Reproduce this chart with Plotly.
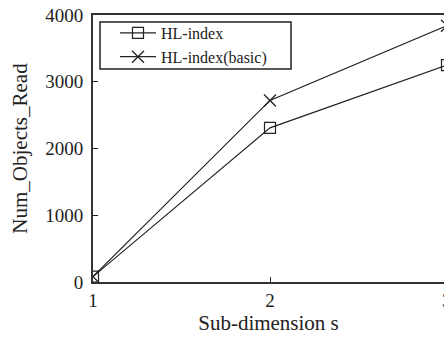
import plotly.graph_objects as go

# Sub-dimension values and the number of objects read by each index
sub_dimension = [1, 2, 3]
hl_index = [80, 2310, 3250]
hl_index_basic = [80, 2720, 3840]
y_ticks = [0, 1000, 2000, 3000, 4000]
x_ticks = [1, 2]

SERIF = "Liberation Serif, Times New Roman, serif"
INK = "#222222"

fig = go.Figure()
fig.add_trace(go.Scatter(
    x=sub_dimension, y=hl_index, name="HL-index", mode="lines+markers",
    line=dict(color=INK, width=1.2),
    marker=dict(symbol="square-open", size=11, color=INK, line=dict(width=1.2)),
))
fig.add_trace(go.Scatter(
    x=sub_dimension, y=hl_index_basic, name="HL-index(basic)", mode="lines+markers",
    line=dict(color=INK, width=1.2),
    marker=dict(symbol="x-thin-open", size=12, color=INK, line=dict(width=1.3, color=INK)),
))

left, bottom, top = 93, 58, 15
plot_w = 444 - left
plot_h = 340 - top - bottom


def px_x(px):
    return (px - left) / plot_w


def px_y(px):
    return (340 - bottom - px) / plot_h


fig.update_layout(
    width=444, height=340,
    margin=dict(l=left, r=0, t=top, b=bottom),
    paper_bgcolor="white", plot_bgcolor="white",
    font=dict(family=SERIF, color=INK, size=16),
    showlegend=True,
    legend=dict(
        x=px_x(115), y=px_y(16), xanchor="left", yanchor="top",
        borderwidth=0, bgcolor="rgba(0,0,0,0)",
        font=dict(family=SERIF, size=16, color=INK),
        itemwidth=36, tracegroupgap=0,
    ),
)
# Frame around the legend
fig.add_shape(
    type="rect", xref="paper", yref="paper",
    x0=px_x(100), x1=px_x(291), y0=px_y(69), y1=px_y(22),
    line=dict(color=INK, width=1.5), fillcolor="white", layer="below",
)
fig.update_xaxes(
    range=[1, 1 + plot_w / 177.0], tickvals=x_ticks, ticktext=[str(v) for v in x_ticks],
    ticks="inside", ticklen=5, tickwidth=1, tickcolor=INK,
    showline=True, linecolor="#333333", linewidth=2, mirror=True, showgrid=False, zeroline=False,
    tickfont=dict(family=SERIF, size=19, color=INK),
    title=dict(text="Sub-dimension s", font=dict(family=SERIF, size=21, color=INK), standoff=6),
)
fig.update_yaxes(
    range=[0, 4000], tickvals=y_ticks,
    ticks="inside", ticklen=5, tickwidth=1, tickcolor=INK, ticklabelstandoff=4,
    showline=True, linecolor="#333333", linewidth=2, mirror=False, showgrid=False, zeroline=False,
    tickfont=dict(family=SERIF, size=19, color=INK),
    title=dict(text="Num_Objects_Read", font=dict(family=SERIF, size=21, color=INK), standoff=12),
)
# Tick label for s = 3 sits at the right edge of the figure
fig.add_annotation(
    x=px_x(447), y=0, xref="paper", yref="paper", xanchor="center", yanchor="top", yshift=-6,
    text="3", showarrow=False, font=dict(family=SERIF, size=19, color=INK),
)

fig.write_html("out.html")
